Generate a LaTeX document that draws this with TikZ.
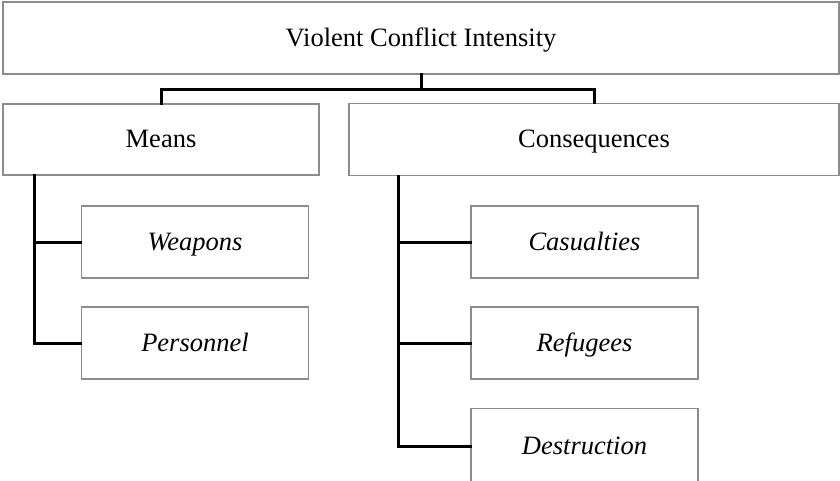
\documentclass[tikz,border=0pt]{standalone}
\usepackage{fontspec}
\setmainfont{Liberation Serif}
\begin{document}
\begin{tikzpicture}[x=1pt,y=-1pt,
    box/.style={draw=black!45,line width=1.2pt,fill=white,inner sep=0pt,
      text height=20pt,text depth=4pt,font=\fontsize{26.5}{30}\selectfont},
    subbox/.style={box,minimum width=227pt,minimum height=72pt,font=\fontsize{26.5}{30}\selectfont\itshape},
    conn/.style={line width=3pt,line cap=rect}]
    \useasboundingbox (0,0) rectangle (840,480);
    \node[box,minimum width=836pt,minimum height=72pt] (top) at (421,38) {Violent Conflict Intensity};
    \node[box,minimum width=316pt,minimum height=71pt] (means) at (161,139.5) {Means};
    \node[box,minimum width=490pt,minimum height=72pt] (cons) at (594,139.5) {Consequences};
    \node[subbox] (weapons) at (195,242) {Weapons};
    \node[subbox] (personnel) at (195,343) {Personnel};
    \node[subbox] (casualties) at (584.5,242) {Casualties};
    \node[subbox] (refugees) at (584.5,343) {Refugees};
    \node[subbox,minimum height=75pt] (destruction) at (584.5,446) {Destruction};
    % tree lines
    \coordinate (mtrunk) at (34,175);
    \coordinate (ctrunk) at (398,176);
    \draw[conn] (top.south) -- ++(0,15) coordinate (fork);
    \draw[conn] (means.north) |- (fork) -| (cons.north);
    \draw[conn] (mtrunk) |- (personnel.west);
    \draw[conn] (weapons.west) -- (weapons.west -| mtrunk);
    \draw[conn] (ctrunk) |- (destruction.west);
    \draw[conn] (casualties.west) -- (casualties.west -| ctrunk);
    \draw[conn] (refugees.west) -- (refugees.west -| ctrunk);
\end{tikzpicture}
\end{document}
